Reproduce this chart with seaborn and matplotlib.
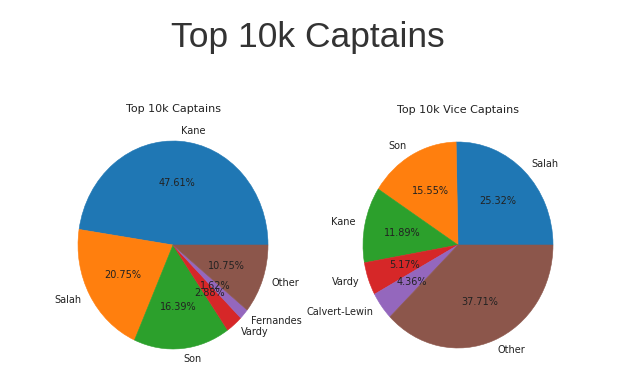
import matplotlib
matplotlib.use("Agg")
import matplotlib.pyplot as plt
import seaborn as sns

# captain picks among top 10k managers
cap_names = ["Kane", "Salah", "Son", "Vardy", "Fernandes", "Other"]
cap_pct = [47.61, 20.75, 16.39, 2.88, 1.62, 10.75]

vice_names = ["Salah", "Son", "Kane", "Vardy", "Calvert-Lewin", "Other"]
vice_pct = [25.32, 15.55, 11.89, 5.17, 4.36, 37.71]

sns.set_style("white")
colors = sns.color_palette("tab10")

fig = plt.figure(figsize=(6.21, 3.92), dpi=100)
fig.text(0.495, 0.905, "Top 10k Captains", ha="center", va="center",
         fontsize=25.5, color="#333333", family="Liberation Sans")

W, H = 621, 392
# pie bounding boxes in pixels (left, top, right, bottom)
boxes = [(78, 141, 268, 349), (363, 142, 553, 348)]
panels = [(cap_names, cap_pct, "Top 10k Captains"),
          (vice_names, vice_pct, "Top 10k Vice Captains")]

for (l, t, r, b), (names, pct, title) in zip(boxes, panels):
    ax = fig.add_axes([l / W, (H - b) / H, (r - l) / W, (b - t) / H])
    wedges, _, _ = ax.pie(pct, labels=names, colors=colors, autopct="%.2f%%",
                          wedgeprops={"linewidth": 0.4},
                          textprops={"fontsize": 7, "color": "#222222"})
    # hide the seams between slices
    for w in wedges:
        w.set_edgecolor(w.get_facecolor())
    ax.set_aspect("auto")
    ax.set_xlim(-1, 1)
    ax.set_ylim(-1, 1)
    ax.set_title(title, fontsize=8, pad=21, color="#222222")

fig.savefig("out.png", dpi=100)
